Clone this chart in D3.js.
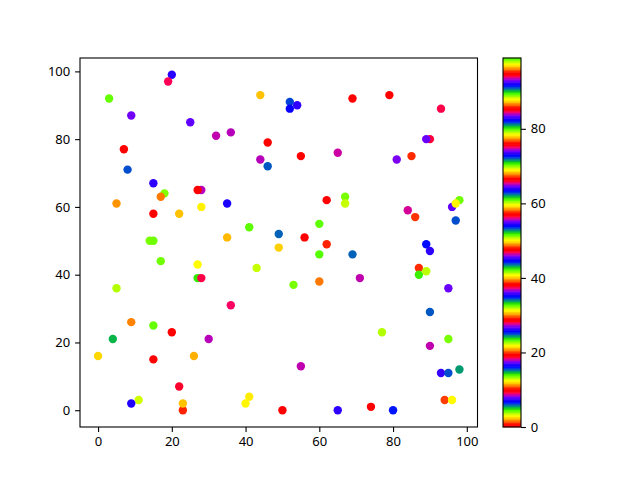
<!DOCTYPE html>
<html>
<head>
<meta charset="utf-8">
<script src="https://cdn.jsdelivr.net/npm/d3@7"></script>
<style>
  body { margin: 0; background: #fff; }
  .tick-font { font-family: "Noto Sans", sans-serif; font-size: 13px; fill: #000; }
</style>
</head>
<body>
<div id="chart_div"></div>
<script>
// scatter points: x, y, colour value
const xs = [20, 19, 3, 9, 25, 32, 7, 8, 15, 18, 17, 28, 27, 5, 15, 22, 28, 14, 15, 44,
  52, 54, 52, 69, 36, 46, 55, 65, 44, 46, 35, 62, 67, 67, 41, 60, 49, 56, 62, 35,
  49, 79, 93, 90, 89, 81, 85, 96, 98, 97, 84, 86, 97, 89, 90, 69, 87, 87, 89, 71,
  95, 90, 77, 95, 90, 93, 95, 98, 94, 96, 74, 80, 65, 60, 43, 53, 60, 36, 30, 55,
  41, 40, 50, 17, 27, 27, 28, 5, 9, 15, 20, 4, 0, 15, 26, 22, 11, 9, 23, 23];
const ys = [99, 97, 92, 87, 85, 81, 77, 71, 67, 64, 63, 65, 65, 61, 58, 58, 60, 50, 50, 93,
  91, 90, 89, 92, 82, 79, 75, 76, 74, 72, 61, 62, 63, 61, 54, 55, 52, 51, 49, 51,
  48, 93, 89, 80, 80, 74, 75, 60, 62, 61, 59, 57, 56, 49, 47, 46, 42, 40, 41, 39,
  36, 29, 23, 21, 19, 11, 11, 12, 3, 3, 1, 0, 0, 46, 42, 37, 38, 31, 21, 13,
  4, 2, 0, 44, 43, 39, 39, 36, 26, 25, 23, 21, 16, 15, 16, 7, 3, 2, 0, 2];
const cs = [45, 28, 61, 74, 36, 84, 10, 91, 17, 4, 77, 65, 57, 87, 95, 40, 31, 23, 42, 40,
  63, 64, 92, 76, 65, 19, 29, 56, 65, 25, 7, 38, 70, 13, 80, 80, 53, 0, 48, 21,
  78, 38, 94, 66, 55, 93, 67, 36, 89, 50, 75, 86, 44, 82, 17, 6, 20, 14, 32, 84,
  55, 25, 51, 70, 84, 83, 44, 34, 58, 69, 57, 16, 64, 99, 60, 23, 77, 9, 65, 84,
  12, 3, 19, 42, 22, 33, 47, 98, 96, 61, 76, 24, 97, 95, 2, 85, 41, 26, 1, 40];

const xTicks = [0, 20, 40, 60, 80, 100];
const yTicks = [0, 20, 40, 60, 80, 100];
const cTicks = [0, 20, 40, 60, 80];

const width = 640,
  height = 480;

const plot = { left: 80, right: 477.5, top: 58, bottom: 427 };
const bar = { left: 503, right: 521, top: 58, bottom: 427 };

// matplotlib "prism" colormap, 256 entry lookup table
function prism(v) {
  const r = 0.75 * Math.sin((v * 20.9 + 0.25) * Math.PI) + 0.67;
  const g = 0.75 * Math.sin((v * 20.9 - 0.25) * Math.PI) + 0.33;
  const b = -1.1 * Math.sin(v * 20.9 * Math.PI);
  const clip = (a) => Math.round(Math.max(0, Math.min(1, a)) * 255);
  return d3.rgb(clip(r), clip(g), clip(b)).formatHex();
}
const lut = d3.range(256).map((i) => prism(i / 255));

const cExtent = d3.extent(cs);
const norm = d3.scaleLinear().domain(cExtent).range([0, 1]);
function colour(c) {
  return lut[Math.max(0, Math.min(255, Math.floor(norm(c) * 256)))];
}

const xMin = d3.min(xs), xMax = d3.max(xs);
const yMin = d3.min(ys), yMax = d3.max(ys);
const xPad = (xMax - xMin) * 0.05,
  yPad = (yMax - yMin) * 0.05;

const x = d3
  .scaleLinear()
  .domain([xMin - xPad, xMax + xPad])
  .range([plot.left, plot.right]);
const y = d3
  .scaleLinear()
  .domain([yMin - yPad, yMax + yPad])
  .range([plot.bottom, plot.top]);
const cy = d3
  .scaleLinear()
  .domain(cExtent)
  .range([bar.bottom, bar.top]);

const svg = d3
  .select("#chart_div")
  .append("svg")
  .attr("width", width)
  .attr("height", height);

svg.append("rect").attr("width", width).attr("height", height).attr("fill", "#fff");

// points
svg
  .append("g")
  .selectAll("circle")
  .data(d3.range(xs.length))
  .enter()
  .append("circle")
  .attr("cx", (i) => x(xs[i]))
  .attr("cy", (i) => y(ys[i]))
  .attr("r", 4.2)
  .attr("fill", (i) => colour(cs[i]));

// axes
const xAxis = svg
  .append("g")
  .attr("transform", `translate(0,${plot.bottom})`)
  .call(d3.axisBottom(x).tickValues(xTicks).tickSize(4.9).tickPadding(4.9));
const yAxis = svg
  .append("g")
  .attr("transform", `translate(${plot.left},0)`)
  .call(d3.axisLeft(y).tickValues(yTicks).tickSize(4.9).tickPadding(4.9));

// colorbar bands
const step = (cExtent[1] - cExtent[0]) / 256;
svg
  .append("g")
  .selectAll("rect")
  .data(lut)
  .enter()
  .append("rect")
  .attr("x", bar.left)
  .attr("width", bar.right - bar.left)
  .attr("y", (d, i) => cy(cExtent[0] + (i + 1) * step) - 0.3)
  .attr("height", (d, i) => cy(cExtent[0] + i * step) - cy(cExtent[0] + (i + 1) * step) + 0.6)
  .attr("fill", (d) => d);

const cAxis = svg
  .append("g")
  .attr("transform", `translate(${bar.right},0)`)
  .call(d3.axisRight(cy).tickValues(cTicks).tickSize(4.9).tickPadding(4.9));

[xAxis, yAxis, cAxis].forEach((g) => {
  g.select(".domain").remove();
  g.selectAll(".tick line").attr("stroke", "#000").attr("stroke-width", 1.1);
  g.selectAll(".tick text").attr("class", "tick-font").attr("fill", "#000");
});

// frames
svg
  .append("rect")
  .attr("x", plot.left)
  .attr("y", plot.top)
  .attr("width", plot.right - plot.left)
  .attr("height", plot.bottom - plot.top)
  .attr("fill", "none")
  .attr("stroke", "#000")
  .attr("stroke-width", 1.1);
svg
  .append("rect")
  .attr("x", bar.left)
  .attr("y", bar.top)
  .attr("width", bar.right - bar.left)
  .attr("height", bar.bottom - bar.top)
  .attr("fill", "none")
  .attr("stroke", "#000")
  .attr("stroke-width", 1.1);
</script>
</body>
</html>
